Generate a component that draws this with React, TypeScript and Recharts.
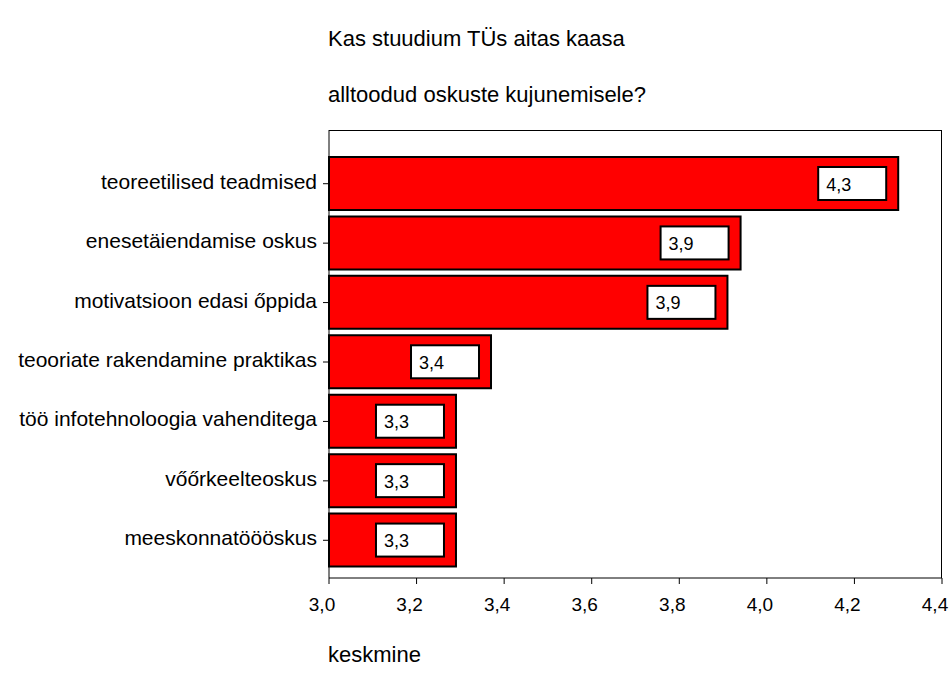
import React from "react";
import { Bar, BarChart, LabelList, XAxis, YAxis } from "recharts";

const skills = [
	"teoreetilised teadmised",
	"enesetäiendamise oskus",
	"motivatsioon edasi őppida",
	"teooriate rakendamine praktikas",
	"töö infotehnoloogia vahenditega",
	"vőőrkeelteoskus",
	"meeskonnatöööskus",
];
const means = [4.3, 3.94, 3.91, 3.37, 3.29, 3.29, 3.29];
const xTicks = [3.0, 3.2, 3.4, 3.6, 3.8, 4.0, 4.2, 4.4];

const titleLines = ["Kas stuudium TÜs aitas kaasa", "alltoodud oskuste kujunemisele?"];
const axisTitle = "keskmine";

const data = skills.map((name, i) => ({ name, mean: means[i] }));

const font = "'Liberation Sans', Arial, sans-serif";
const fmt = (v: number) => v.toFixed(1).replace(".", ",");

// white value box sitting inside the right end of each bar
const ValueBox = (props: any) => {
	const { x, y, width, height, value } = props;
	const w = 68;
	const h = height - 20;
	const bx = x + width - 12 - w;
	const by = y + 10;
	return (
		<g>
			<rect x={bx} y={by} width={w} height={h} fill="#fff" stroke="#000" strokeWidth={2} />
			<text x={bx + 8} y={by + h / 2 + 7} fontSize={18} fontFamily={font} fill="#000">
				{fmt(value)}
			</text>
		</g>
	);
};

const CatTick = (props: any) => {
	const { x, y, payload } = props;
	return (
		<text x={x} y={y - 2} dy={7} textAnchor="end" fontSize={21} fontFamily={font} fill="#000">
			{payload.value}
		</text>
	);
};

const NumTick = (props: any) => {
	const { x, y, payload } = props;
	return (
		<text x={x - 7} y={y} dy={17} textAnchor="middle" fontSize={19} fontFamily={font} fill="#000">
			{fmt(payload.value)}
		</text>
	);
};

export default function App() {
	return (
		<div style={{ position: "relative", width: 950, height: 691, background: "#fff", fontFamily: font }}>
			<style>{"body{margin:0}"}</style>
			<div style={{ position: "absolute", left: 328, top: 11, fontSize: 22, lineHeight: "56px", color: "#000" }}>
				{titleLines.map((t) => (
					<div key={t}>{t}</div>
				))}
			</div>
			<div style={{ position: "absolute", left: 328, top: 642, fontSize: 22, color: "#000" }}>{axisTitle}</div>
			<BarChart
				width={950}
				height={691}
				data={data}
				layout="vertical"
				margin={{ top: 130, right: 8, bottom: 73, left: 0 }}
				barCategoryGap={3}
				style={{ position: "absolute", left: 0, top: 0 }}
			>
				<XAxis
					type="number"
					domain={[3, 4.4]}
					ticks={xTicks}
					height={40}
					stroke="#000"
					tickSize={6}
					tickMargin={10}
					tick={<NumTick />}
					interval={0}
				/>
				<YAxis
					type="category"
					dataKey="name"
					width={329}
					stroke="#000"
					tickSize={6}
					tickMargin={6}
					padding={{ top: 24, bottom: 8 }}
					tick={<CatTick />}
					interval={0}
				/>
				<Bar dataKey="mean" fill="#ff0000" stroke="#000" strokeWidth={2} isAnimationActive={false}>
					<LabelList dataKey="mean" content={<ValueBox />} />
				</Bar>
			</BarChart>
			<div
				style={{
					position: "absolute",
					left: 329,
					top: 130,
					width: 613,
					height: 448,
					boxSizing: "border-box",
					borderTop: "1px solid #000",
					borderRight: "1px solid #000",
					pointerEvents: "none",
				}}
			/>
		</div>
	);
}
